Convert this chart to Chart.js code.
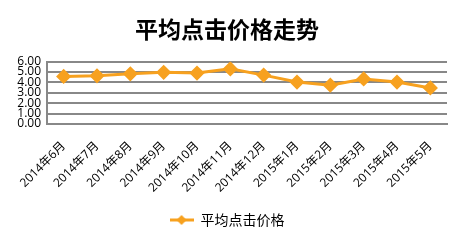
<!DOCTYPE html>
<html><head><meta charset="utf-8">
<script src="https://cdn.jsdelivr.net/npm/chart.js@4/dist/chart.umd.min.js"></script>
<style>html,body{margin:0;padding:0;background:#fff}#wrap{width:462px;height:242px}</style>
</head><body><div id="wrap"><canvas id="c" width="462" height="242"></canvas></div>
<script>
const categories = ["2014年6月","2014年7月","2014年8月","2014年9月","2014年10月","2014年11月","2014年12月","2015年1月","2015年2月","2015年3月","2015年4月","2015年5月"];
const avgClickPrice = [4.57,4.63,4.83,4.97,4.90,5.30,4.70,4.03,3.73,4.33,4.03,3.47];
const yTicks = [0,1,2,3,4,5,6];
const seriesName = "平均点击价格";
const titleText = "平均点击价格走势";

const ORANGE = "#F7A11F";
const FONT = "'Open Sans','Noto Sans CJK SC',sans-serif";

// legend icon: line with diamond
const icon = document.createElement('canvas');
icon.width = 24; icon.height = 12;
(function(){const g = icon.getContext('2d');
 g.strokeStyle = ORANGE; g.lineWidth = 3; g.beginPath(); g.moveTo(0,6); g.lineTo(24,6); g.stroke();
 g.fillStyle = ORANGE; g.beginPath(); g.moveTo(12,1); g.lineTo(17,6); g.lineTo(12,11); g.lineTo(7,6); g.closePath(); g.fill();})();

new Chart(document.getElementById('c'), {
  type: 'line',
  data: { labels: categories, datasets: [{
    label: seriesName, data: avgClickPrice,
    borderColor: ORANGE, backgroundColor: ORANGE, borderWidth: 3,
    pointStyle: 'rectRot', pointRadius: 5.5, pointHoverRadius: 5.5,
    pointBackgroundColor: ORANGE, pointBorderColor: ORANGE, tension: 0
  }]},
  options: {
    responsive: false, animation: false, devicePixelRatio: 1,
    layout: { padding: { left: 7, right: 15, top: 0, bottom: 5 } },
    plugins: {
      title: { display: true, text: titleText, color: '#000',
        font: { family: "'Noto Sans CJK SC',sans-serif", size: 23, weight: 'bold' },
        padding: { top: 15, bottom: 19 } },
      legend: { position: 'bottom',
        labels: { usePointStyle: true, pointStyle: icon, pointStyleWidth: 24, boxHeight: 12, color: '#000',
          font: { family: "'Noto Sans CJK SC',sans-serif", size: 14 }, padding: 10 } },
      tooltip: { enabled: false }
    },
    scales: {
      x: {
        offset: true,
        grid: { display: false, drawTicks: false, offset: true },
        border: { display: true, color: '#888', width: 2 },
        ticks: { color: '#000', font: { family: FONT, size: 12 }, minRotation: 45, maxRotation: 45, autoSkip: false, padding: 15 },
        afterFit: s => { s.height = 79; }
      },
      y: {
        min: 0, max: 6,
        afterBuildTicks: s => { s.ticks = yTicks.map(v => ({ value: v })); },
        grid: { color: '#888', lineWidth: 2, drawTicks: false },
        border: { display: true, color: '#888', width: 2 },
        ticks: { color: '#000', font: { family: FONT, size: 12 }, autoSkip: false, padding: 6,
          callback: v => Number(v).toFixed(2) },
        afterFit: s => { s.width = 40; }
      }
    }
  }
});
</script></body></html>
